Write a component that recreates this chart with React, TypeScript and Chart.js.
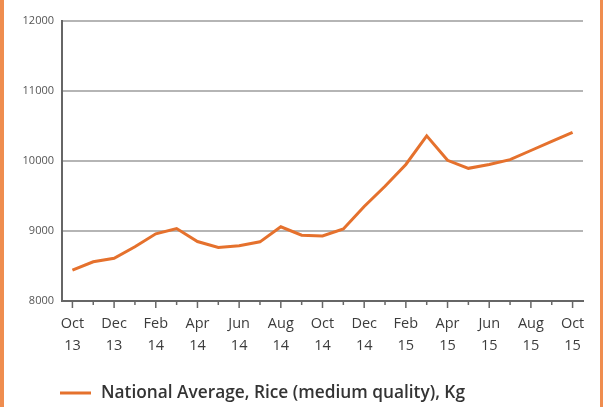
import React, { useEffect, useRef } from "react";
import { Chart, registerables } from "chart.js";

Chart.register(...registerables);

const months = [
  "Oct 13", "Nov 13", "Dec 13", "Jan 14", "Feb 14", "Mar 14", "Apr 14", "May 14", "Jun 14",
  "Jul 14", "Aug 14", "Sep 14", "Oct 14", "Nov 14", "Dec 14", "Jan 15", "Feb 15", "Mar 15",
  "Apr 15", "May 15", "Jun 15", "Jul 15", "Aug 15", "Sep 15", "Oct 15",
];
const riceValues = [
  8440, 8560, 8610, 8775, 8960, 9035, 8850, 8765, 8790, 8845, 9060, 8940, 8930,
  9030, 9350, 9640, 9950, 10360, 10010, 9895, 9950, 10020, 10150, 10280, 10410,
];
const seriesLabel = "National Average, Rice (medium quality), Kg";
const yTicks = [8000, 9000, 10000, 11000, 12000];

const ORANGE = "#e5712d";
const FONT = "'Open Sans', sans-serif";

export default function App() {
  const ref = useRef<HTMLCanvasElement | null>(null);
  useEffect(() => {
    if (!ref.current) return;
    const tickPlugin = {
      id: "customTicksLegend",
      afterDraw(chart: any) {
        const ctx = chart.ctx;
        const xs = chart.scales.x;
        const bottom = chart.chartArea.bottom;
        ctx.save();
        ctx.strokeStyle = "#666";
        ctx.lineWidth = 1.5;
        months.forEach((_, i) => {
          const px = xs.getPixelForValue(i);
          ctx.beginPath();
          ctx.moveTo(px, bottom);
          ctx.lineTo(px, bottom + (i % 2 === 0 ? 7 : 4));
          ctx.stroke();
        });
        // legend
        const ly = 393;
        ctx.strokeStyle = ORANGE;
        ctx.lineWidth = 3;
        ctx.beginPath();
        ctx.moveTo(60, ly);
        ctx.lineTo(91, ly);
        ctx.stroke();
        ctx.fillStyle = "#333";
        ctx.font = `600 17.3px ${FONT}`;
        ctx.textBaseline = "middle";
        ctx.textAlign = "left";
        ctx.fillText(chart.data.datasets[0].label, 101, ly);
        ctx.restore();
      },
    };
    const chart = new Chart(ref.current, {
      type: "line",
      data: {
        labels: months,
        datasets: [
          {
            label: seriesLabel,
            data: riceValues,
            borderColor: ORANGE,
            backgroundColor: ORANGE,
            borderWidth: 3,
            pointRadius: 0,
            tension: 0,
          },
        ],
      },
      options: {
        responsive: false,
        animation: false,
        layout: { padding: { top: 21, right: 20, bottom: 56, left: 0 } },
        plugins: { legend: { display: false }, tooltip: { enabled: false } },
        scales: {
          x: {
            type: "category",
            offset: true,
            grid: { display: false, drawTicks: false },
            border: { display: true, color: "#666", width: 2 },
            afterFit: (s: any) => { s.height = 50; },
            ticks: {
              autoSkip: false,
              maxRotation: 0,
              minRotation: 0,
              padding: 12,
              color: "#3c3c3c",
              font: { family: FONT, size: 14.5, lineHeight: 1.5 },
              callback: (_v: any, i: number) => (i % 2 === 0 ? months[i].split(" ") : ""),
            },
          },
          y: {
            min: yTicks[0],
            max: yTicks[yTicks.length - 1],
            afterFit: (s: any) => { s.width = 62; },
            afterBuildTicks: (s: any) => { s.ticks = yTicks.map((v) => ({ value: v })); },
            grid: { color: "#b5b5b5", lineWidth: 2, drawTicks: false },
            border: { display: true, color: "#666", width: 2 },
            ticks: {
              padding: 8,
              color: "#555",
              font: { family: FONT, size: 11 },
              callback: (v: any) => String(v),
            },
          },
        },
      },
      plugins: [tickPlugin],
    });
    return () => chart.destroy();
  }, []);
  return (
    <div style={{ position: "fixed", left: 0, top: 0, width: 603, height: 407, background: "#fff" }}>
      <canvas ref={ref} width={603} height={407} style={{ display: "block" }} />
      <div style={{ position: "absolute", left: 0, top: 0, width: 4, height: 407, background: "#ef8d4f" }} />
      <div style={{ position: "absolute", left: 600, top: 0, width: 3, height: 407, background: "#ef8d4f" }} />
    </div>
  );
}
